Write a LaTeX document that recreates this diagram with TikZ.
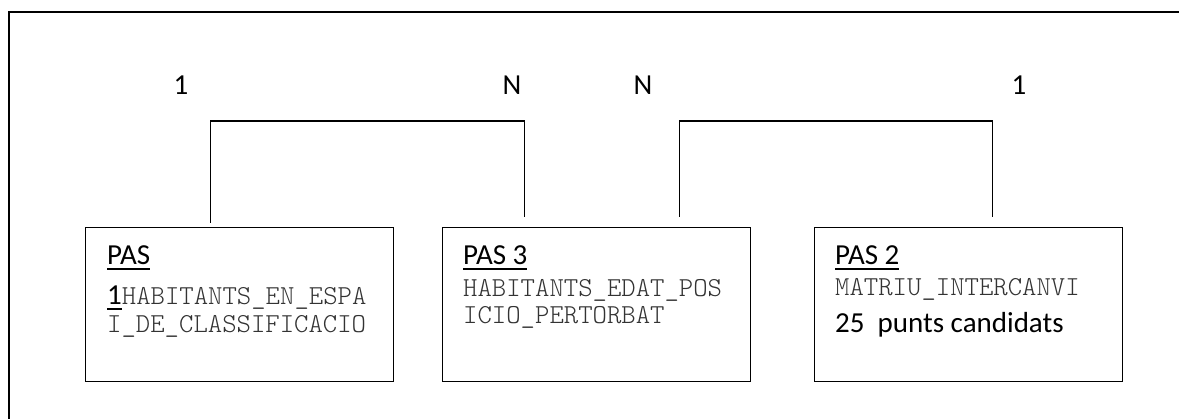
\documentclass[tikz,border=0pt]{standalone}
\usepackage{fontspec}
\setmainfont{Carlito}
\newfontfamily\monof{lmmonolt10-regular.otf}
\newcommand\ulx[1]{\setbox0\hbox{#1}\rlap{\rule[-5pt]{\wd0}{1.5pt}}\box0}
\tikzset{
  frame/.style={draw=black, line width=1.4pt},
  stepbox/.style={draw=black, line width=1.4pt, minimum width=308pt, minimum height=154pt, inner sep=0pt, anchor=north west},
  conn/.style={draw=black, line width=1.4pt},
  card/.style={font=\fontsize{29}{31}\selectfont, anchor=base, inner sep=0pt},
  title/.style={font=\fontsize{29}{31}\selectfont, anchor=base west, inner sep=0pt},
  mono/.style={font=\monof\fontsize{27.4}{30}\selectfont, anchor=base west, inner sep=0pt, text=black!80},
  plain/.style={font=\fontsize{29}{31}\selectfont, anchor=base west, inner sep=0pt}
}
\begin{document}
\begin{tikzpicture}[x=1pt,y=-1pt]
\useasboundingbox (0,0) rectangle (1179,419);
% outer frame (open to the right and bottom)
\draw[frame] (1179,12) -- (9,12) -- (9,419);

% boxes
\node[stepbox] (b1) at (85,227) {};
\node[stepbox] (b2) at (442,227) {};
\node[stepbox] (b3) at (814,227) {};

% box texts
\node[title] (t1) at (107,265) {\ulx{PAS}};
\node[mono] (t1a) at (107,305) {{\fontsize{29}{31}\rmfamily\selectfont\color{black}\ulx{1}}HABITANTS\_EN\_ESPA};
\node[mono] (t1b) at (107,333) {I\_DE\_CLASSIFICACIO};

\node[title] (t2) at (463,265) {\ulx{PAS 3}};
\node[mono] (t2a) at (463,297) {HABITANTS\_EDAT\_POS};
\node[mono] (t2b) at (463,324) {ICIO\_PERTORBAT};

\node[title] (t3) at (835,265) {\ulx{PAS 2}};
\node[mono] (t3a) at (835,296) {MATRIU\_INTERCANVI};
\node[plain] (t3b) at (835,333) {25~ punts candidats};

% cardinality labels
\node[card] (l1) at (181,95) {1};
\node[card] (l2) at (512,95) {N};
\node[card] (l3) at (643,95) {N};
\node[card] (l4) at (1019,95) {1};

% connectors
\coordinate (top) at (0,121);
\coordinate (c1a) at ([xshift=-29pt,yshift=4pt]b1.north);
\coordinate (c1b) at ([xshift=-72pt,yshift=10pt]b2.north);
\coordinate (c2a) at ([xshift=83pt,yshift=10pt]b2.north);
\coordinate (c2b) at ([xshift=24pt,yshift=10pt]b3.north);
\draw[conn] (c1a) |- (c1b |- top) -- (c1b);
\draw[conn] (c2a) |- (c2b |- top) -- (c2b);
\end{tikzpicture}
\end{document}
